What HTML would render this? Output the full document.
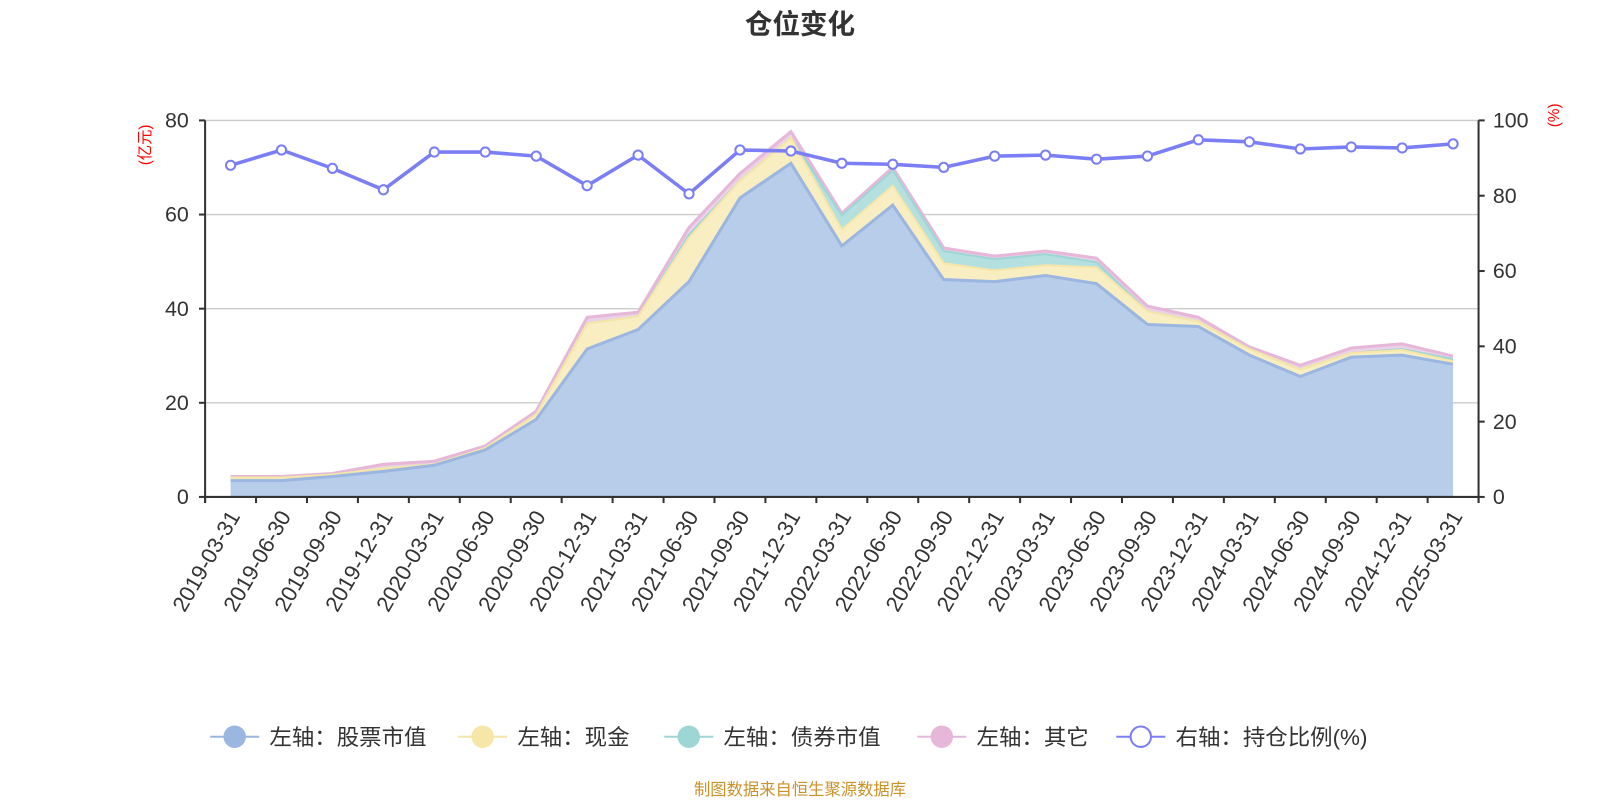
<!DOCTYPE html>
<html><head><meta charset="utf-8"><style>
html,body{margin:0;padding:0;background:#fff;width:1600px;height:800px;overflow:hidden}
svg text{font-family:"Liberation Sans","Noto Sans CJK SC",sans-serif}
</style></head><body>
<svg id="c" width="1600" height="800" xmlns="http://www.w3.org/2000/svg">
<g id="g" transform="scale(1.0204)"></g>
</svg>
<script>
const g=document.getElementById('g');let s='';
const X0=201,X1=1449,Y0=487,Y1=118,W=(X1-X0)/25;
const xs=i=>X0+W*(i+0.5);
const labels=["2019-03-31","2019-06-30","2019-09-30","2019-12-31","2020-03-31","2020-06-30","2020-09-30","2020-12-31","2021-03-31","2021-06-30","2021-09-30","2021-12-31","2022-03-31","2022-06-30","2022-09-30","2022-12-31","2023-03-31","2023-06-30","2023-09-30","2023-12-31","2024-03-31","2024-06-30","2024-09-30","2024-12-31","2025-03-31"];
const stock=[471,471,467,462,456,441,411,342,323,276,194,160,241,201,274,276,270,278,318,320,348,369,350,348,357];
const cash=[468,468,465,459,455,439,406,317,310,233,177,135,225,182,258,265,260,262,305,315,342,362,346,343,354];
const bond=cash.slice();bond[9]=230;bond[12]=211;bond[13]=167;bond[14]=246;bond[15]=254;bond[16]=249;bond[17]=257;bond[23]=342;bond[24]=352;
const other=[467,467,464,455,452,437,403,311,306,223,170,129,209,164,243,251,246,253,300,311,340,358,341,337,349];
const ratio=[162,147,165,186,149,149,153,182,152,190,147,148,160,161,164,153,152,156,153,137,139,146,144,145,141];
for(let k=0;k<5;k++){const y=Y0-(Y0-Y1)*k/4;s+=`<line x1="${X0}" x2="${X1}" y1="${y}" y2="${y}" stroke="#ccc" stroke-width="1.3"/>`;
s+=`<text x="${X0-16}" y="${y+7}" font-size="21" fill="#333" text-anchor="end">${k*20}</text>`;
s+=`<line x1="${X0-6}" x2="${X0}" y1="${y}" y2="${y}" stroke="#333" stroke-width="2"/>`;}
for(let k=0;k<6;k++){const y=Y0-(Y0-Y1)*k/5;s+=`<line x1="${X1}" x2="${X1+6}" y1="${y}" y2="${y}" stroke="#333" stroke-width="2"/>`;
s+=`<text x="${X1+14}" y="${y+7}" font-size="21" fill="#333">${k*20}</text>`;}
const pts=a=>a.map((y,i)=>`${xs(i).toFixed(1)},${y}`).join(' ');
const area=(top,bot,fill)=>{const b=bot?bot.map((y,i)=>`${xs(i).toFixed(1)},${y}`).reverse().join(' '):`${xs(24)},${Y0} ${xs(0)},${Y0}`;return `<polygon points="${pts(top)} ${b}" fill="${fill}"/>`;};
s+=area(other,bond,'#ecd2e6');s+=area(bond,cash,'#b4e0e0');s+=area(cash,stock,'#f9eec2');s+=area(stock,null,'#b8cdea');
s+=`<polyline points="${pts(other)}" fill="none" stroke="#e6b7d9" stroke-width="3"/>`;
s+=`<polyline points="${pts(bond)}" fill="none" stroke="#9ed6d6" stroke-width="2"/>`;
s+=`<polyline points="${pts(cash)}" fill="none" stroke="#f6e6a8" stroke-width="2"/>`;
s+=`<polyline points="${pts(stock)}" fill="none" stroke="#9bb6e0" stroke-width="3"/>`;
s+=`<line x1="${X0}" x2="${X0}" y1="${Y1}" y2="${Y0+6}" stroke="#333" stroke-width="2"/>`;
s+=`<line x1="${X1}" x2="${X1}" y1="${Y1}" y2="${Y0+6}" stroke="#333" stroke-width="2"/>`;
s+=`<line x1="${X0}" x2="${X1}" y1="${Y0}" y2="${Y0}" stroke="#333" stroke-width="2"/>`;
for(let i=0;i<=25;i++){const x=X0+W*i;s+=`<line x1="${x}" x2="${x}" y1="${Y0}" y2="${Y0+6}" stroke="#333" stroke-width="2"/>`;}
labels.forEach((l,i)=>{const x=xs(i)+5,y=Y0+16;s+=`<text transform="translate(${x},${y}) rotate(-60)" font-size="21.5" fill="#333" text-anchor="end" dominant-baseline="middle">${l}</text>`;});
s+=`<polyline points="${pts(ratio)}" fill="none" stroke="#7b7ef5" stroke-width="3.5"/>`;
ratio.forEach((y,i)=>{s+=`<circle cx="${xs(i)}" cy="${y}" r="4.5" fill="#fff" stroke="#7b7ef5" stroke-width="2"/>`;});
s+=`<text transform="translate(143,142) rotate(-90)" font-size="15" fill="red" text-anchor="middle" dominant-baseline="middle">(亿元)</text>`;
s+=`<text transform="translate(1524,113) rotate(-90)" font-size="15" fill="red" text-anchor="middle" dominant-baseline="middle">(%)</text>`;
s+=`<text x="784" y="33" font-size="27" font-weight="bold" fill="#333" text-anchor="middle">仓位变化</text>`;
const leg=[[230,'#9bb6e0','左轴：股票市值',0],[473,'#f6e6a8','左轴：现金',0],[675,'#9ed6d6','左轴：债券市值',0],[923,'#e6b7d9','左轴：其它',0],[1118,'#7b7ef5','右轴：持仓比例(%)',1]];
leg.forEach(([x,c,t,h])=>{s+=`<line x1="${x-24}" x2="${x+24}" y1="722" y2="722" stroke="${c}" stroke-width="2"/>`;
s+=h?`<circle cx="${x}" cy="722" r="10" fill="#fff" stroke="${c}" stroke-width="2"/>`:`<circle cx="${x}" cy="722" r="11" fill="${c}"/>`;
s+=`<text x="${x+34}" y="730" font-size="22" fill="#333">${t}</text>`;});
s+=`<text x="784" y="779" font-size="16" fill="#c9922a" text-anchor="middle">制图数据来自恒生聚源数据库</text>`;
g.innerHTML=s;
</script>
</body></html>
